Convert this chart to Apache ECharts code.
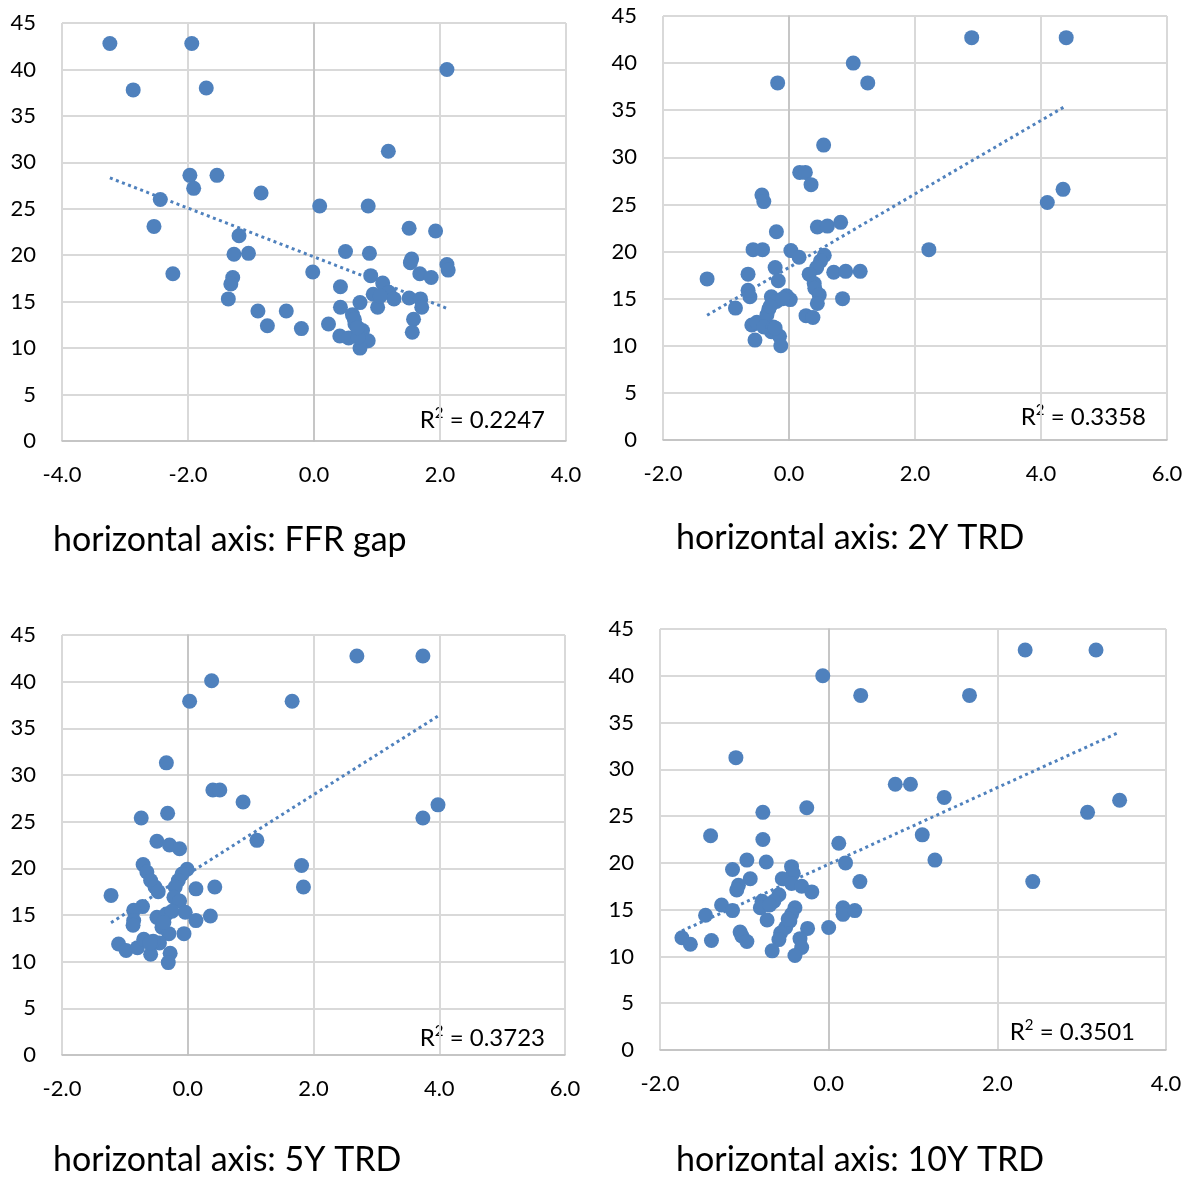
<!DOCTYPE html>
<html>
<head>
<meta charset="utf-8">
<script src="https://cdn.jsdelivr.net/npm/echarts@6/dist/echarts.min.js"></script>
<style>
  html, body { margin: 0; padding: 0; background: #fff; }
  #chart-container { width: 1198px; height: 1180px; }
</style>
</head>
<body>
<div id="chart-container"></div>
<script>
// [x, y] pairs
var ffrGap = [
  [-3.24, 42.8], [-1.94, 42.8], [-2.87, 37.8], [-1.71, 38.0], [2.11, 40.0], [1.18, 31.2],
  [-1.97, 28.6], [-1.54, 28.6], [-1.91, 27.2], [-0.84, 26.7], [-2.44, 26.0], [0.09, 25.3],
  [0.86, 25.3], [-2.54, 23.1], [1.51, 22.9], [1.93, 22.6], [-1.19, 22.1], [-1.27, 20.1],
  [-1.04, 20.2], [-2.24, 18.0], [-1.29, 17.6], [-1.32, 16.9], [-1.36, 15.3], [-0.89, 14.0],
  [-0.44, 14.0], [-0.74, 12.4], [0.50, 20.4], [0.88, 20.2], [1.55, 19.6], [1.53, 19.2],
  [2.11, 19.0], [2.13, 18.4], [-0.02, 18.2], [1.68, 18.0], [1.86, 17.6], [0.90, 17.8],
  [1.09, 17.0], [0.42, 16.6], [1.19, 16.0], [0.94, 15.8], [1.27, 15.3], [1.51, 15.4],
  [1.69, 15.3], [1.71, 14.4], [0.73, 14.9], [1.01, 14.4], [0.42, 14.4], [0.61, 13.6],
  [0.65, 12.6], [1.58, 13.1], [0.23, 12.6], [-0.20, 12.1], [0.41, 11.3], [0.55, 11.1],
  [0.77, 11.9], [0.86, 10.8], [1.56, 11.7], [0.73, 10.0], [0.70, 11.2], [0.64, 13.1],
  [1.05, 15.6], [0.69, 12.2]
];
var trd2y = [
  [2.90, 42.7], [4.40, 42.7], [1.02, 40.0], [-0.18, 37.9], [1.25, 37.9], [0.55, 31.3],
  [0.17, 28.4], [0.26, 28.4], [0.35, 27.1], [-0.43, 26.0], [-0.40, 25.3], [4.35, 26.6],
  [4.10, 25.2], [-0.20, 22.1], [0.45, 22.6], [0.61, 22.7], [0.82, 23.1], [2.22, 20.2],
  [-0.57, 20.2], [-0.42, 20.2], [0.03, 20.1], [0.16, 19.4], [0.56, 19.6], [0.50, 19.0],
  [0.44, 18.3], [-1.30, 17.1], [-0.65, 17.6], [-0.22, 18.3], [-0.17, 16.9], [0.32, 17.6],
  [0.71, 17.8], [0.90, 17.9], [1.13, 17.9], [0.40, 16.6], [0.41, 16.1], [-0.65, 15.9],
  [-0.62, 15.2], [-0.28, 15.2], [-0.04, 15.3], [0.02, 14.9], [0.48, 15.4], [0.45, 14.5],
  [0.85, 15.0], [-0.85, 14.0], [-0.32, 13.9], [-0.20, 14.7], [-0.10, 15.0], [0.27, 13.2],
  [0.38, 13.0], [-0.59, 12.2], [-0.51, 12.5], [-0.35, 13.3], [-0.28, 11.5], [-0.15, 11.0],
  [-0.54, 10.6], [-0.13, 10.0], [-0.40, 12.0], [-0.25, 12.0], [-0.30, 14.2], [-0.22, 11.9]
];
var trd5y = [
  [2.69, 42.75], [3.74, 42.75], [0.38, 40.1], [0.03, 37.9], [1.66, 37.9], [-0.34, 31.3],
  [0.40, 28.4], [0.51, 28.4], [0.88, 27.1], [-0.74, 25.4], [-0.32, 25.9], [3.74, 25.4],
  [3.98, 26.8], [1.10, 23.0], [1.81, 20.3], [1.84, 18.0], [-0.49, 22.9], [-0.29, 22.5],
  [-0.13, 22.1], [-0.71, 20.4], [-0.65, 19.6], [-0.59, 18.7], [-0.52, 18.0], [-0.47, 17.5],
  [-0.01, 19.9], [-0.09, 19.4], [-0.15, 18.7], [-0.20, 18.0], [0.13, 17.8], [0.43, 18.0],
  [-1.22, 17.1], [-0.22, 16.9], [-0.13, 16.5], [-0.72, 15.9], [-0.86, 15.5], [-0.86, 14.4],
  [-0.87, 13.9], [-0.49, 14.75], [-0.34, 15.1], [-0.25, 15.4], [-0.04, 15.3], [0.13, 14.4],
  [0.36, 14.9], [-0.41, 13.7], [-0.30, 13.0], [-0.06, 13.0], [-1.10, 11.9], [-0.98, 11.2],
  [-0.80, 11.5], [-0.70, 12.4], [-0.59, 10.8], [-0.28, 10.9], [-0.31, 9.9], [-0.45, 12.0],
  [-0.55, 12.2], [-0.38, 14.2], [-0.60, 12.0]
];
var trd10y = [
  [2.33, 42.75], [3.17, 42.75], [-0.07, 40.0], [0.38, 37.9], [1.67, 37.9], [-1.10, 31.25],
  [0.79, 28.4], [0.97, 28.4], [1.37, 27.0], [-0.26, 25.9], [-0.78, 25.4], [3.07, 25.4],
  [3.45, 26.7], [-1.40, 22.9], [-0.78, 22.5], [0.12, 22.1], [1.11, 23.0], [1.26, 20.3],
  [2.42, 18.0], [0.20, 20.0], [0.37, 18.0], [-0.97, 20.3], [-0.74, 20.1], [-1.14, 19.3],
  [-0.93, 18.3], [-1.07, 17.6], [-1.09, 17.1], [-0.44, 19.6], [-0.42, 18.9], [-0.55, 18.3],
  [-0.44, 17.8], [-0.32, 17.5], [-0.20, 16.9], [-1.27, 15.5], [-1.14, 14.9], [-1.46, 14.4],
  [-0.59, 16.6], [-0.65, 15.9], [-0.79, 15.9], [-0.81, 15.2], [-0.73, 13.9], [-0.40, 15.2],
  [-0.44, 14.5], [-0.46, 13.8], [-0.51, 13.1], [-0.57, 12.5], [-0.25, 13.0], [0.00, 13.1],
  [0.17, 15.2], [0.17, 14.5], [0.31, 14.9], [-1.74, 12.0], [-1.64, 11.3], [-1.39, 11.7],
  [-1.05, 12.6], [-1.03, 12.2], [-0.97, 11.6], [-0.59, 11.8], [-0.67, 10.6], [-0.34, 11.9],
  [-0.32, 10.95], [-0.40, 10.1], [-0.70, 15.5], [-0.48, 14.0]
];

var panelData = [ffrGap, trd2y, trd5y, trd10y];
var captions = ['horizontal axis: FFR gap', 'horizontal axis: 2Y TRD', 'horizontal axis: 5Y TRD', 'horizontal axis: 10Y TRD'];
var r2Values = ['0.2247', '0.3358', '0.3723', '0.3501'];
var xRanges = [[-4, 4], [-2, 6], [-2, 6], [-2, 4]];

var grids = [
  { left: 62, top: 23, width: 504, height: 418 },
  { left: 663, top: 16, width: 504, height: 424 },
  { left: 62, top: 635, width: 503, height: 420 },
  { left: 660, top: 629, width: 506, height: 421 }
];
var captionPos = [[53, 540], [676, 538], [53, 1160], [676, 1160]];
var r2Pos = [[545, 417], [1146, 414], [545, 1035], [1135, 1029]];

var blue = '#4f81bd';
var fontFam = 'Lato, "Open Sans", sans-serif';

// least squares line over the x range of the points
function trendLine(pts) {
  var n = pts.length, sx = 0, sy = 0, sxx = 0, sxy = 0;
  var minX = Infinity, maxX = -Infinity;
  pts.forEach(function (p) {
    sx += p[0]; sy += p[1]; sxx += p[0] * p[0]; sxy += p[0] * p[1];
    if (p[0] < minX) minX = p[0];
    if (p[0] > maxX) maxX = p[0];
  });
  var b = (n * sxy - sx * sy) / (n * sxx - sx * sx);
  var a = (sy - b * sx) / n;
  return [[minX, a + b * minX], [maxX, a + b * maxX]];
}

var dom = document.getElementById('chart-container');
var myChart = echarts.init(dom, null, { renderer: 'canvas' });

var xAxes = [], yAxes = [], series = [], graphics = [];
for (var i = 0; i < 4; i++) {
  xAxes.push({
    type: 'value', gridIndex: i, min: xRanges[i][0], max: xRanges[i][1], interval: 2,
    axisLine: { show: true, onZero: false, lineStyle: { color: '#bfbfbf', width: 1.5 } },
    axisTick: { show: false },
    splitLine: { show: true, lineStyle: { color: '#d9d9d9', width: 2 } },
    axisLabel: {
      color: '#000', fontSize: 22, fontFamily: fontFam, margin: 23,
      formatter: function (v) { return v.toFixed(1); }
    }
  });
  yAxes.push({
    type: 'value', gridIndex: i, min: 0, max: 45, interval: 5,
    axisLine: { show: true, lineStyle: { color: '#bfbfbf', width: 1.5 } },
    axisTick: { show: false },
    splitLine: { show: true, lineStyle: { color: '#d9d9d9', width: 2 } },
    axisLabel: { color: '#000', fontSize: 22, fontFamily: fontFam, margin: 26 }
  });
  series.push({
    type: 'scatter', xAxisIndex: i, yAxisIndex: i,
    symbolSize: 15, itemStyle: { color: blue, opacity: 1 },
    data: panelData[i]
  });
  series.push({
    type: 'line', xAxisIndex: i, yAxisIndex: i, silent: true,
    symbol: 'none', z: 1,
    lineStyle: { color: blue, width: 3, type: [3, 3.5] },
    data: trendLine(panelData[i])
  });
  graphics.push({
    type: 'text', left: captionPos[i][0], top: captionPos[i][1] - 17,
    style: { text: captions[i], fill: '#000', font: '34px ' + fontFam }
  });
  graphics.push({
    type: 'text', right: 1198 - r2Pos[i][0], top: r2Pos[i][1] - 13,
    style: {
      text: '{m|R}{s|2}{m| = ' + r2Values[i] + '}',
      rich: {
        m: { fontSize: 24, fontFamily: fontFam, fill: '#000', lineHeight: 28, verticalAlign: 'bottom' },
        s: { fontSize: 15, fontFamily: fontFam, fill: '#000', lineHeight: 28, verticalAlign: 'top', padding: [2, 0, 0, 0] }
      }
    }
  });
}

var option = {
  backgroundColor: '#fff',
  animation: false,
  grid: grids,
  xAxis: xAxes,
  yAxis: yAxes,
  series: series,
  graphic: graphics
};

myChart.setOption(option);
window.addEventListener('resize', myChart.resize);
</script>
</body>
</html>
